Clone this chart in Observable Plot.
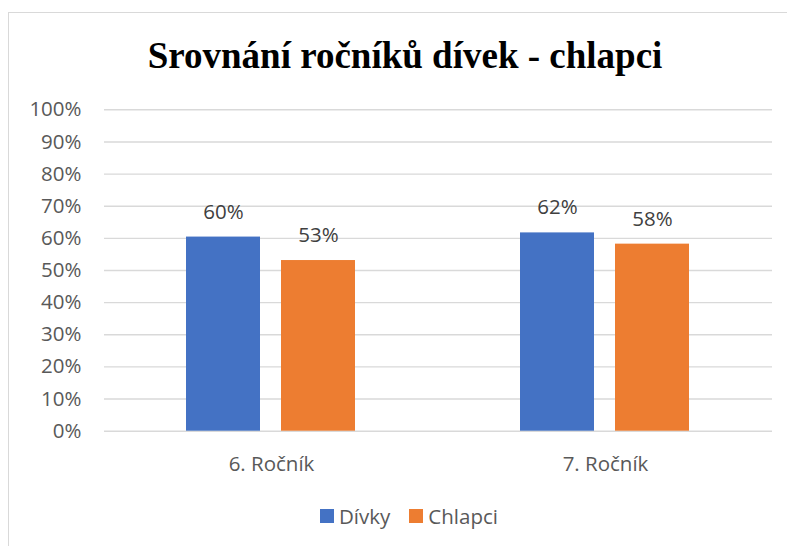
<!DOCTYPE html>
<html>
<head>
<meta charset="utf-8">
<script src="https://cdn.jsdelivr.net/npm/d3@7"></script>
<script src="https://cdn.jsdelivr.net/npm/@observablehq/plot@0.6"></script>
<style>
  html, body { margin: 0; padding: 0; background: #fff; }
  #wrap { position: relative; width: 787px; height: 546px; overflow: hidden; }
  #frame { position: absolute; left: 8px; top: 12px; width: 800px; height: 560px; border: 1.5px solid #d9d9d9; box-sizing: border-box; }
  #title { position: absolute; left: 9px; width: 792px; top: 37px; text-align: center; font-family: "Liberation Serif", "Times New Roman", serif; font-weight: bold; font-size: 37px; line-height: 1; color: #000; white-space: nowrap; }
  #chart { position: absolute; left: 0; top: 0; }
  #legend { position: absolute; top: 503px; left: 320px; display: flex; align-items: center; font-family: "Open Sans", sans-serif; font-size: 20.5px; color: #595959; line-height: 26px; }
  .sw { display: inline-block; width: 14px; height: 14px; margin-right: 5px; }
  .item { display: flex; align-items: center; margin-right: 19px; }
</style>
</head>
<body>
<div id="wrap">
  <div id="frame"></div>
  <div id="title">Srovnání ročníků dívek - chlapci</div>
  <div id="chart"></div>
  <div id="legend"></div>
</div>
<script>
const categories = ["6. Ročník", "7. Ročník"];
const series = ["Dívky", "Chlapci"];
const divky = [60.4, 61.7];
const chlapci = [53.1, 58.2];
const labels = ["60%", "62%", "53%", "58%"];
const colors = ["#4472C4", "#ED7D31"];
const yTicks = [0, 10, 20, 30, 40, 50, 60, 70, 80, 90, 100];

const data = [];
categories.forEach((c, i) => data.push({cat: c, ser: series[0], v: divky[i], label: labels[i]}));
categories.forEach((c, i) => data.push({cat: c, ser: series[1], v: chlapci[i], label: labels[2 + i]}));

const plot = Plot.plot({
  width: 787,
  height: 546,
  marginTop: 109.3,
  marginBottom: 115.3,
  marginLeft: 103,
  marginRight: 15,
  style: {fontFamily: "'Open Sans', sans-serif", fontSize: "20.5px", color: "#595959", background: "transparent"},
  fx: {domain: categories, padding: 0, label: null, axis: null},
  x: {domain: series, paddingInner: 0.21875, paddingOuter: 0.8516, axis: null},
  y: {domain: [0, 100], axis: null},
  color: {domain: series, range: colors},
  marks: [
    Plot.gridY(yTicks, {stroke: "#d9d9d9", strokeOpacity: 1, strokeWidth: 1.4}),
    Plot.axisY({ticks: yTicks, tickFormat: d => d + "%", tickSize: 0, tickPadding: 23, label: null, fill: "#595959"}),
    Plot.barY(data, {fx: "cat", x: "ser", y: "v", fill: "ser"}),
    Plot.text(data, {fx: "cat", x: "ser", y: "v", text: "label", dy: -25, fill: "#404040"}),
    Plot.axisFx({anchor: "bottom", tickSize: 0, tickPadding: 25, label: null, fill: "#595959"})
  ]
});
document.getElementById("chart").appendChild(plot);

const legend = document.getElementById("legend");
series.forEach((s, i) => {
  const item = document.createElement("div");
  item.className = "item";
  const sw = document.createElement("span");
  sw.className = "sw";
  sw.style.background = colors[i];
  item.appendChild(sw);
  const t = document.createElement("span");
  t.textContent = s;
  item.appendChild(t);
  legend.appendChild(item);
});
</script>
</body>
</html>
